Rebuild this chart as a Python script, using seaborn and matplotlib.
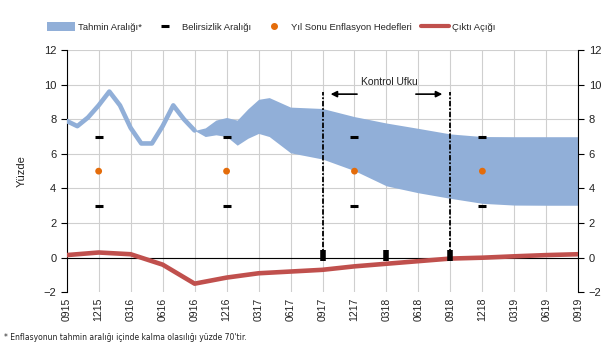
import numpy as np
import pandas as pd
import matplotlib
matplotlib.use("Agg")
import matplotlib.pyplot as plt
from matplotlib.patches import Patch
from matplotlib.lines import Line2D
import seaborn as sns

# month index: 0 = Sep 2015 ... 48 = Sep 2019
quarter_labels = ["0915", "1215", "0316", "0616", "0916", "1216", "0317", "0617", "0917",
                  "1217", "0318", "0618", "0918", "1218", "0319", "0619", "0919"]
quarter_months = list(range(0, 49, 3))

# realised inflation (monthly)
infl_months = [0, 1, 2, 3, 4, 5, 6, 7, 8, 9, 10, 11, 12]
infl_values = [7.9, 7.6, 8.1, 8.8, 9.6, 8.8, 7.5, 6.6, 6.6, 7.6, 8.8, 8.0, 7.35]

# forecast band
band_months = [12, 13, 14, 15, 16, 17, 18, 19, 21, 24, 27, 30, 33, 36, 39, 42, 45, 48]
band_upper = [7.35, 7.5, 7.95, 8.1, 7.95, 8.6, 9.15, 9.25, 8.7, 8.62, 8.15, 7.78, 7.47, 7.15, 7.0, 6.99, 6.99, 6.99]
band_lower = [7.35, 7.0, 7.1, 7.0, 6.5, 6.9, 7.18, 7.0, 6.06, 5.7, 5.03, 4.15, 3.75, 3.43, 3.14, 3.04, 3.03, 3.03]

# output gap (quarterly)
gap_values = [0.15, 0.3, 0.2, -0.4, -1.5, -1.15, -0.9, -0.8, -0.7, -0.5, -0.35, -0.2, -0.05, 0.0, 0.08, 0.15, 0.2]

# year-end targets and uncertainty range
target_months = [3, 15, 27, 39]
target_values = [5, 5, 5, 5]
unc_upper = [7, 7, 7, 7]
unc_lower = [3, 3, 3, 3]

# control horizon
horizon_months = [24, 36]
bar_months = [24, 30, 36]

blue = "#91AFD8"
red = "#C0504D"
orange = "#E46C0A"

sns.set_theme(style="white")
plt.rcParams["font.family"] = ["Liberation Sans", "DejaVu Sans"]

fig = plt.figure(figsize=(6.04, 3.42), dpi=100)
ax = fig.add_axes([0.1104, 0.1453, 0.8471, 0.7085])

infl = pd.DataFrame({"m": infl_months, "v": infl_values})
band = pd.DataFrame({"m": band_months, "hi": band_upper, "lo": band_lower})
gap = pd.DataFrame({"m": quarter_months, "v": gap_values})
tgt = pd.DataFrame({"m": target_months, "v": target_values})

ax.fill_between(band["m"], band["lo"], band["hi"], color=blue, lw=0, zorder=2)
sns.lineplot(data=infl, x="m", y="v", ax=ax, color=blue, lw=3.3, zorder=3)
sns.lineplot(data=gap, x="m", y="v", ax=ax, color=red, lw=3.3, zorder=5)
sns.scatterplot(data=tgt, x="m", y="v", ax=ax, color=orange, s=24, edgecolor="none", zorder=6)
ax.plot(target_months, unc_upper, ls="none", marker="_", ms=6, mew=2.2, color="black", zorder=6)
ax.plot(target_months, unc_lower, ls="none", marker="_", ms=6, mew=2.2, color="black", zorder=6)

ax.axhline(0, color="black", lw=0.8, zorder=4)
ax.vlines(horizon_months, 0, 9.6, colors="black", linestyles=(0, (3, 1, 1, 1)), lw=1.3, zorder=7)
ax.vlines(bar_months, -0.2, 0.45, colors="black", lw=4, zorder=7)

ax.annotate("", xy=(24.5, 9.45), xytext=(27.5, 9.45),
            arrowprops=dict(arrowstyle="-|>", color="black", lw=1.2, mutation_scale=9))
ax.annotate("", xy=(35.5, 9.45), xytext=(32.5, 9.45),
            arrowprops=dict(arrowstyle="-|>", color="black", lw=1.2, mutation_scale=9))
ax.text(30.3, 10.15, "Kontrol Ufku", ha="center", va="center", fontsize=7.5, color="#222222")

ax.set_xlim(0, 48)
ax.set_ylim(-2, 12)
ax.set_xticks(quarter_months)
ax.set_xticklabels(quarter_labels, rotation=90, fontsize=7.5, color="#222222")
ax.set_yticks(range(-2, 13, 2))
ax.tick_params(axis="y", labelsize=8, labelcolor="#222222", left=True, right=True,
               labelright=True, length=4, width=0.8, color="black", direction="out")
ax.tick_params(axis="x", length=0, pad=4)
ax.grid(True, color="#CFCFCF", lw=0.8)
ax.set_axisbelow(True)
ax.yaxis.get_gridlines()[0].set_visible(False)
for s in ["top", "bottom"]:
    ax.spines[s].set_visible(False)
for s in ["left", "right"]:
    ax.spines[s].set_color("black")
    ax.spines[s].set_linewidth(0.8)
ax.set_xlabel("")
ax.set_ylabel("Yüzde", fontsize=8, color="#222222", labelpad=12)

handles = [
    Patch(facecolor=blue, edgecolor="none"),
    Line2D([], [], ls="none", marker="_", ms=6, mew=2.2, color="black"),
    Line2D([], [], ls="none", marker="o", ms=4, color=orange),
    Line2D([], [], color=red, lw=3),
]
labels = ["Tahmin Aralığı*", "Belirsizlik Aralığı", "Yıl Sonu Enflasyon Hedefleri", "Çıktı Açığı"]
fig.legend(handles, labels, loc="center", bbox_to_anchor=(271 / 604, 1 - 27 / 342), ncol=4,
           frameon=False, fontsize=6.8, handlelength=3.0, handleheight=1.1, handletextpad=0.25,
           columnspacing=1.0)

fig.text(4 / 604, 1 - 337 / 342, "* Enflasyonun tahmin aralığı içinde kalma olasılığı yüzde 70'tir.",
         fontsize=5.5, ha="left", va="center", color="#222222", family=["DejaVu Sans"])

fig.savefig("out.png", dpi=100)
